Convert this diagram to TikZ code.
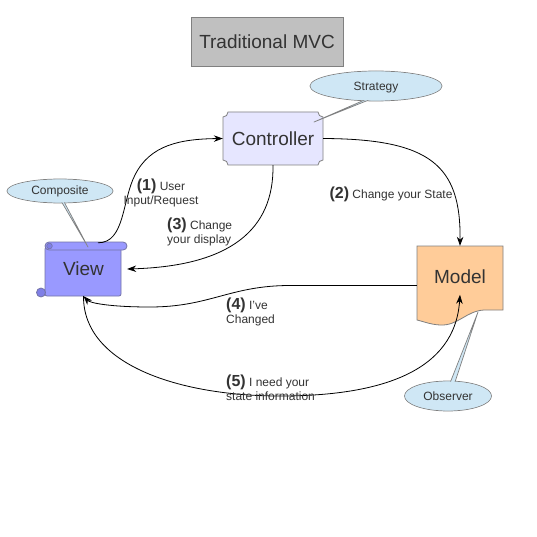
\documentclass[tikz,border=0pt]{standalone}
\usepackage{fontspec}
\setmainfont{Liberation Sans}
\usetikzlibrary{arrows.meta,shapes.geometric}
\definecolor{txt}{HTML}{333333}
\definecolor{edgegray}{HTML}{808080}
\definecolor{titlefill}{HTML}{C0C0C0}
\definecolor{ctrlfill}{HTML}{E6E6FF}
\definecolor{viewfill}{HTML}{9999FF}
\definecolor{viewcurl}{HTML}{7F7FE6}
\definecolor{viewedge}{HTML}{7373A6}
\definecolor{modelfill}{HTML}{FFCC99}
\definecolor{calloutblue}{HTML}{CFE7F5}
\newcommand\bnum[1]{{\fontsize{16}{16}\selectfont\bfseries #1}}
\tikzset{
  conn/.style={draw=black, line width=0.8pt, -{Stealth[length=9pt,width=6.5pt]}},
  lab/.style={text=txt, font=\fontsize{12}{14}\selectfont, inner sep=0pt},
  bigtext/.style={text=txt, font=\fontsize{19}{21}\selectfont, inner sep=0pt},
  ell/.style={ellipse, draw=edgegray, fill=calloutblue, line width=0.7pt, inner sep=0pt},
  tail/.style={draw=edgegray, fill=calloutblue, line width=0.7pt, line join=round},
  shapeedge/.style={draw=edgegray, line width=0.8pt},
}
\begin{document}
\begin{tikzpicture}[x=1pt,y=-1pt]
\useasboundingbox[fill=white] (0,0) rectangle (536,537);

% title
\node[bigtext, draw=edgegray, fill=titlefill, line width=0.8pt, minimum width=152pt, minimum height=49pt] (title) at (267,41.5) {Traditional MVC};

% controller shape (concave corners)
\path[shapeedge, fill=ctrlfill]
  (228,112) -- (318,112) .. controls (318,114.8) and (320.2,117) .. (323,117)
  -- (323,160) .. controls (320.2,160) and (318,162.2) .. (318,165)
  -- (228,165) .. controls (228,162.2) and (225.8,160) .. (223,160)
  -- (223,117) .. controls (225.8,117) and (228,114.8) .. (228,112) -- cycle;
\node[bigtext, minimum width=100pt, minimum height=53pt] (ctrl) at (273,138.5) {Controller};

% view scroll shape
\draw[draw=viewedge, fill=viewfill, line width=0.8pt, rounded corners=2pt] (45,247) rectangle (121,296);
\draw[draw=viewedge, fill=viewcurl, line width=0.8pt] (41,292.5) circle (4.5pt);
\draw[draw=viewedge, fill=viewfill, line width=0.8pt, rounded corners=4pt] (45,242) rectangle (127,250);
\draw[draw=viewedge, fill=viewcurl, line width=0.6pt] (49.5,246) circle (2.8pt);
\node[bigtext, minimum width=87pt, minimum height=54pt] (view) at (83.5,269) {View};

% model document shape
\path[shapeedge, fill=modelfill]
  (417,246) -- (503,246) -- (503,310) -- (484,310)
  .. controls (466,311) and (458,326) .. (440,325)
  .. controls (430,324.5) and (422,321) .. (417,320) -- cycle;
\node[bigtext, minimum width=86pt, minimum height=62pt] (model) at (460,277) {Model};

% connectors
\draw[conn] ([xshift=14.5pt,yshift=-1pt]view.north) .. controls (125,243) and (122,200) .. (135,175)
  .. controls (150,145) and (180,139) .. (ctrl.west);
\draw[conn] (ctrl.east) .. controls (430,139) and (461,165) .. (model.north);
\draw[conn] (ctrl.south) .. controls (274,230) and (230,266) .. (view.east);
\draw[conn] ([yshift=-8.5pt]model.west) -- (290,285.5) .. controls (230,285.5) and (210,307) .. (150,307)
  .. controls (110,307) and (90,303) .. (view.south);
\draw[conn] (view.south) .. controls (83,365) and (180,396) .. (280,396)
  .. controls (380,396) and (455,372) .. ([yshift=-49pt]model.north);

% callouts
\coordinate (stip) at (314,122);
\coordinate (ctip) at (88,247);
\coordinate (otip) at (478,312);
\node[ell, minimum width=132pt, minimum height=30pt] (strategy) at (376,86) {};
\node[ell, minimum width=106pt, minimum height=24pt] (composite) at (60,191) {};
\node[ell, minimum width=87pt, minimum height=30pt] (observer) at (448,396) {};
\draw[tail] ([xshift=1pt,yshift=2pt]strategy.235) -- (stip) -- ([xshift=1pt,yshift=2pt]strategy.247);
\draw[tail] ([yshift=2pt]composite.276) -- (ctip) -- ([yshift=2pt]composite.287);
\draw[tail] ([yshift=-2pt]observer.82) -- (otip) -- ([yshift=-2pt]observer.66);
\fill[calloutblue] (strategy.center) ellipse [x radius=65.3pt, y radius=14.3pt];
\fill[calloutblue] (composite.center) ellipse [x radius=52.3pt, y radius=11.3pt];
\fill[calloutblue] (observer.center) ellipse [x radius=42.8pt, y radius=14.3pt];
\node[lab, anchor=base] (stext) at (376,90.5) {Strategy};
\node[lab, anchor=base] (ctext) at (60,195) {Composite};
\node[lab, anchor=base] (otext) at (448,400.5) {Observer};

% labels
\node[lab, align=center, anchor=north] (l1) at (161,179) {\bnum{(1)} User\\Input/Request};
\node[lab, anchor=base] (l2) at (391,198) {\bnum{(2)} Change your State};
\node[lab, align=left, anchor=north west] (l3) at (167,218) {\bnum{(3)} Change\\your display};
\node[lab, align=left, anchor=north west] (l4) at (226,297.5) {\bnum{(4)} I've\\Changed};
\node[lab, align=left, anchor=north west] (l5) at (226,374.5) {\bnum{(5)} I need your\\state information};
\end{tikzpicture}
\end{document}
